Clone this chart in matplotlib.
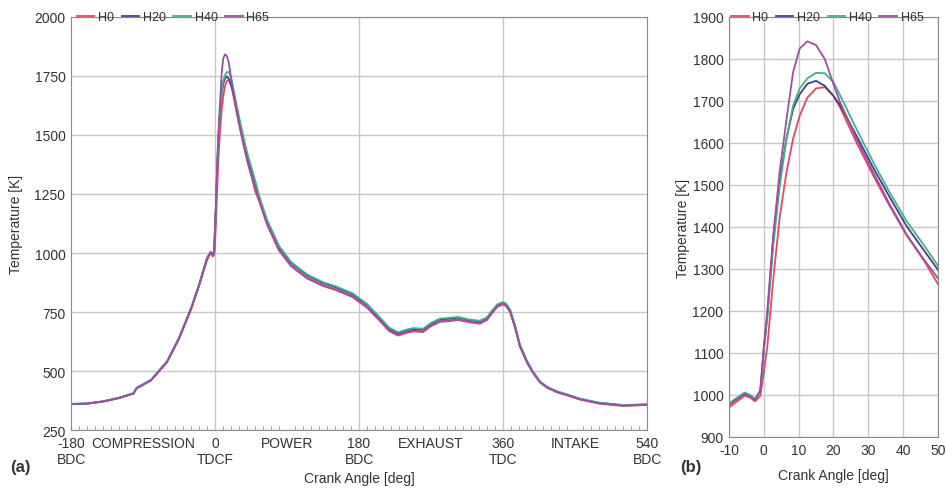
import matplotlib.pyplot as plt
from matplotlib.ticker import MultipleLocator

plt.rcParams['font.family'] = ['Liberation Sans', 'DejaVu Sans']
plt.rcParams['axes.unicode_minus'] = False

# crank angle [deg] of the sampled points
crank = [-180, -160, -140, -120, -102, -98, -80, -60, -45, -30, -20, -10, -8, -5.5, -4, -2.5,
         -1, 0, 1, 2.7, 4.6, 6.5, 8.4, 10.3, 12.5, 15, 17.5, 20, 22, 26.5, 31.5, 36, 41, 46, 50,
         56, 65, 80, 95, 115, 135, 150, 172, 190, 206, 218, 229, 240, 248, 260, 270, 281, 295,
         304, 318, 331, 340, 346, 353, 360, 364, 369, 375, 381, 390, 397, 406, 415, 428, 440,
         456, 480, 510, 540]

# in-cylinder temperature [K]
temp_h0 = [359, 361, 370, 385, 404, 426, 460, 537, 636, 760, 860, 970, 983, 998, 994, 985,
           998, 1055, 1115, 1275, 1426, 1530, 1610, 1665, 1708, 1730, 1733, 1712, 1683, 1603,
           1521, 1452, 1380, 1320, 1264,
           1212, 1120, 1010, 944, 892, 860, 844, 813, 768, 712, 668, 650, 662, 668, 665, 690,
           708, 712, 716, 706, 700, 716, 744, 772, 782, 774, 748, 683, 604, 535, 494, 452, 429,
           409, 397, 379, 362, 352, 356]
temp_h20 = [360, 362, 371, 386, 405, 428, 462, 540, 640, 765, 865, 978, 990, 1004, 999, 990,
            1010, 1110, 1190, 1370, 1514, 1610, 1681, 1716, 1741, 1748, 1736, 1712, 1689, 1619,
            1540, 1473, 1402, 1344, 1298,
            1225, 1135, 1025, 958, 905, 872, 856, 825, 780, 722, 678, 660, 672, 678, 675, 700,
            718, 722, 726, 715, 710, 725, 752, 780, 790, 782, 755, 690, 610, 540, 498, 455, 432,
            412, 400, 382, 365, 355, 358]
temp_h40 = [361, 363, 372, 387, 406, 429, 463, 541, 641, 766, 866, 980, 992, 1006, 1000, 991,
            1010, 1105, 1182, 1354, 1500, 1610, 1689, 1730, 1754, 1767, 1766, 1745, 1712, 1635,
            1553, 1484, 1414, 1356, 1308,
            1232, 1140, 1030, 962, 909, 876, 860, 829, 784, 727, 683, 664, 676, 682, 679, 704,
            722, 726, 729, 718, 713, 728, 755, 783, 792, 785, 758, 693, 613, 542, 500, 456, 433,
            413, 401, 383, 366, 356, 359]
temp_h65 = [360, 362, 371, 386, 405, 427, 461, 539, 639, 764, 864, 976, 988, 1002, 997, 987,
            1012, 1115, 1200, 1380, 1535, 1655, 1768, 1825, 1842, 1833, 1800, 1740, 1695, 1612,
            1529, 1456, 1382, 1322, 1278,
            1215, 1124, 1014, 947, 895, 863, 847, 816, 771, 715, 671, 653, 665, 671, 668, 693,
            711, 715, 719, 709, 703, 719, 747, 775, 785, 777, 750, 685, 606, 537, 495, 453, 430,
            410, 398, 380, 363, 353, 357]

series = [("H0", temp_h0, "#e8475f"),
          ("H20", temp_h20, "#3a4585"),
          ("H40", temp_h40, "#3fb483"),
          ("H65", temp_h65, "#a24ba6")]

phase_ticks = [-180, -90, 0, 90, 180, 270, 360, 450, 540]
phase_labels = ["-180\nBDC", "COMPRESSION", "0\nTDCF", "POWER", "180\nBDC",
                "EXHAUST", "360\nTDC", "INTAKE", "540\nBDC"]

text_col = "#333333"
grid_col = "#c8c8c8"
spine_col = "#8a8a8a"

fig = plt.figure(figsize=(9.46, 4.89), dpi=100)
ax1 = fig.add_axes([0.0751, 0.1186, 0.6089, 0.8446])
ax2 = fig.add_axes([0.7706, 0.1043, 0.2209, 0.8589])

for name, temp, col in series:
    ax1.plot(crank, temp, color=col, lw=1.3, label=name)
    ax2.plot(crank, temp, color=col, lw=1.3, label=name)

# full cycle
ax1.set_xlim(-180, 540)
ax1.set_ylim(250, 2000)
ax1.set_yticks(range(250, 2001, 250))
ax1.set_xticks(phase_ticks)
ax1.set_xticklabels(phase_labels)
ax1.xaxis.set_minor_locator(MultipleLocator(10))
ax1.tick_params(axis="x", which="major", length=0, pad=4)
ax1.tick_params(axis="x", which="minor", direction="in", length=3, color=spine_col)
ax1.tick_params(axis="y", length=0, pad=4)
ax1.grid(axis="y", color=grid_col, lw=1)
for x in [0, 180, 360]:
    ax1.axvline(x, color=grid_col, lw=1, zorder=0)
ax1.set_xlabel("Crank Angle [deg]", color=text_col, fontsize=10, labelpad=4)
ax1.set_ylabel("Temperature [K]", color=text_col, fontsize=10, labelpad=8)

# zoom on combustion
ax2.set_xlim(-10, 50)
ax2.set_ylim(900, 1900)
ax2.set_xticks(range(-10, 51, 10))
ax2.set_yticks(range(900, 1901, 100))
ax2.tick_params(length=0, pad=4)
ax2.grid(color=grid_col, lw=1)
ax2.set_xlabel("Crank Angle [deg]", color=text_col, fontsize=10, labelpad=8)
ax2.set_ylabel("Temperature [K]", color=text_col, fontsize=10, labelpad=2)

for ax in (ax1, ax2):
    ax.set_axisbelow(True)
    for s in ax.spines.values():
        s.set_color(spine_col)
    ax.tick_params(labelsize=10, labelcolor=text_col)
    ax.legend(loc="lower left", bbox_to_anchor=(0.01, 0.985), ncol=4, frameon=False,
              fontsize=9, handlelength=1.4, handletextpad=0.3, columnspacing=0.6,
              borderaxespad=0, borderpad=0, labelcolor=text_col)

fig.text(0.011, 0.035, "(a)", fontsize=12, fontweight="bold", color=text_col)
fig.text(0.719, 0.035, "(b)", fontsize=12, fontweight="bold", color=text_col)

fig.savefig("out.png", dpi=100)
